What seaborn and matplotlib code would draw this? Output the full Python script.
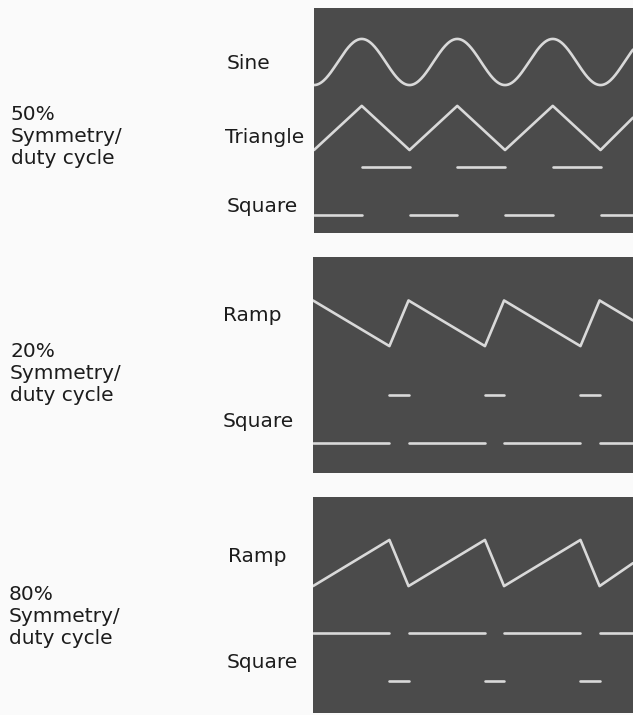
import numpy as np
import pandas as pd
import matplotlib
matplotlib.use("Agg")
import matplotlib.pyplot as plt
import seaborn as sns

# Scope traces.
# t = time in periods (0 = left edge of screen), level = screen divisions (0 = bottom, 8 = top)

# --- 50% symmetry / duty cycle ---
sine_center = 6.08
sine_amp = 0.82
sine_t_end = 3.34

tri_times = [0.0, 0.5, 1.0, 1.5, 2.0, 2.5, 3.0, 3.34]
tri_levels = [2.95, 4.52, 2.95, 4.52, 2.95, 4.52, 2.95, 4.10]

sq50_high = [(0.5, 1.0), (1.5, 2.0), (2.5, 3.0)]
sq50_low = [(0.0, 0.5), (1.0, 1.5), (2.0, 2.5), (3.0, 3.34)]
sq50_levels = (2.36, 0.64)

# --- 20% symmetry / duty cycle ---
ramp20_times = [0.0, 0.8, 1.0, 1.8, 2.0, 2.8, 3.0, 3.35]
ramp20_levels = [6.39, 4.70, 6.39, 4.70, 6.39, 4.70, 6.39, 5.65]

sq20_high = [(0.8, 1.0), (1.8, 2.0), (2.8, 3.0)]
sq20_low = [(0.0, 0.8), (1.0, 1.8), (2.0, 2.8), (3.0, 3.35)]
sq20_levels = (2.89, 1.12)

# --- 80% symmetry / duty cycle ---
ramp80_times = [0.0, 0.8, 1.0, 1.8, 2.0, 2.8, 3.0, 3.35]
ramp80_levels = [4.70, 6.41, 4.70, 6.41, 4.70, 6.41, 4.70, 5.55]

sq80_high = [(0.0, 0.8), (1.0, 1.8), (2.0, 2.8), (3.0, 3.35)]
sq80_low = [(0.8, 1.0), (1.8, 2.0), (2.8, 3.0)]
sq80_levels = (2.97, 1.20)

wave_labels = [["Sine", "Triangle", "Square"], ["Ramp", "Square"], ["Ramp", "Square"]]
duty_labels = ["50%\nSymmetry/\nduty cycle", "20%\nSymmetry/\nduty cycle", "80%\nSymmetry/\nduty cycle"]

# colours
PAPER = "#fafafa"
SCREEN = "#4b4b4b"
TRACE = "#d9d9d9"
INK = "#1c1c1c"

W, H = 633, 715


def poly_df(times, levels):
    return pd.DataFrame({"t": times, "level": levels, "seg": 0})


def square_df(high, low, levels):
    rows = []
    k = 0
    for segs, lev in ((high, levels[0]), (low, levels[1])):
        for a, b in segs:
            rows.append((a, lev, k))
            rows.append((b, lev, k))
            k += 1
    return pd.DataFrame(rows, columns=["t", "level", "seg"])


def draw_trace(ax, df):
    sns.lineplot(data=df, x="t", y="level", units="seg", estimator=None,
                 color=TRACE, lw=1.9, ax=ax, legend=False)


def screen_axes(fig, left, top, right, bottom, xmax):
    # pixel box -> figure fraction
    ax = fig.add_axes([left / W, 1 - bottom / H, (right - left) / W, (bottom - top) / H])
    ax.set_facecolor(SCREEN)
    ax.set_xlim(0, xmax)
    ax.set_ylim(0, 8)
    return ax


def finish(ax):
    ax.set_xticks([])
    ax.set_yticks([])
    ax.set_xlabel("")
    ax.set_ylabel("")
    for s in ax.spines.values():
        s.set_visible(False)


sns.set_style("white")
plt.rcParams["font.family"] = ["DejaVu Sans"]

fig = plt.figure(figsize=(W / 100, H / 100), dpi=100, facecolor=PAPER)

# panel 1
ax1 = screen_axes(fig, 314, 8, 633, 233, 3.34)
t_sine = np.linspace(0, sine_t_end, 400)
sine_df = pd.DataFrame({"t": t_sine,
                        "level": sine_center - sine_amp * np.cos(2 * np.pi * t_sine),
                        "seg": 0})
draw_trace(ax1, sine_df)
draw_trace(ax1, poly_df(tri_times, tri_levels))
draw_trace(ax1, square_df(sq50_high, sq50_low, sq50_levels))
finish(ax1)

# panel 2
ax2 = screen_axes(fig, 313, 257, 633, 473, 3.35)
draw_trace(ax2, poly_df(ramp20_times, ramp20_levels))
draw_trace(ax2, square_df(sq20_high, sq20_low, sq20_levels))
finish(ax2)

# panel 3
ax3 = screen_axes(fig, 313, 497, 633, 713, 3.35)
draw_trace(ax3, poly_df(ramp80_times, ramp80_levels))
draw_trace(ax3, square_df(sq80_high, sq80_low, sq80_levels))
finish(ax3)

# labels next to the traces (x, baseline in pixels)
label_pos = [[(227, 69), (225, 143), (227, 212)],
             [(223, 321), (223, 427)],
             [(228, 562), (227, 668)]]
for names, spots in zip(wave_labels, label_pos):
    for name, (x, y) in zip(names, spots):
        fig.text(x / W, 1 - y / H, name, fontsize=14.5, color=INK,
                 ha="left", va="baseline")

duty_pos = [(11, 137), (10, 373), (9, 617)]
for txt, (x, y) in zip(duty_labels, duty_pos):
    fig.text(x / W, 1 - y / H, txt, fontsize=14.5, color=INK,
             ha="left", va="center", linespacing=1.2)

fig.savefig("out.png", dpi=100, facecolor=PAPER)
